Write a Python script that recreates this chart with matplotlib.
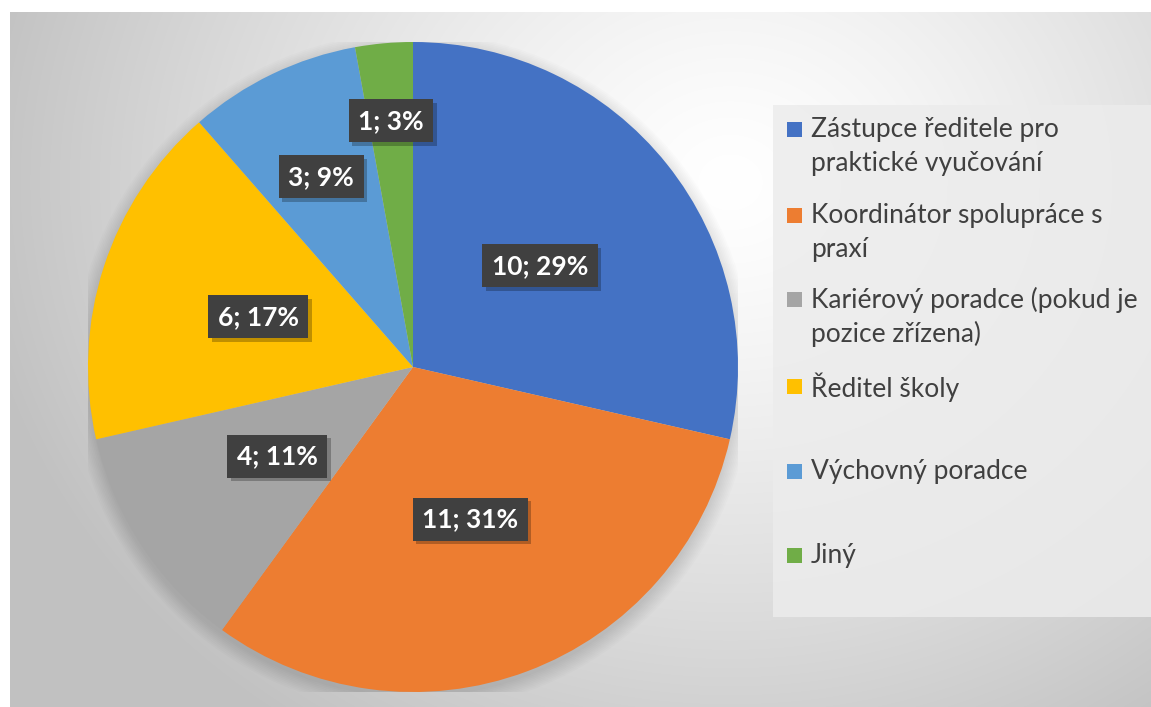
import numpy as np
import matplotlib.pyplot as plt
import matplotlib.patheffects as pe
from matplotlib.patches import Rectangle, Circle

# data
categories = ["Zástupce ředitele pro\npraktické vyučování",
              "Koordinátor spolupráce s\npraxí",
              "Kariérový poradce (pokud je\npozice zřízena)",
              "Ředitel školy",
              "Výchovný poradce",
              "Jiný"]
counts = [10, 11, 4, 6, 3, 1]
colors = ["#4472C4", "#ED7D31", "#A5A5A5", "#FFC000", "#5B9BD5", "#70AD47"]

plt.rcParams['font.family'] = ['Lato', 'DejaVu Sans']

W, H = 1151, 707
fig = plt.figure(figsize=(W / 100, H / 100), dpi=100)
fig.patch.set_facecolor('white')

# background panel with radial gradient
bg = fig.add_axes([10 / W, 0, (W - 10) / W, (H - 12) / H])
bg.set_axis_off()
yy, xx = np.mgrid[0:695, 0:1141]
d = np.sqrt((xx - 720) ** 2 + ((yy - 170) * 1.15) ** 2)
t = np.clip(d / 760, 0, 1) ** 1.3
shade = 1.0 - t * (1.0 - 0.76)
img = np.dstack([shade, shade, shade])
bg.imshow(img, aspect='auto', extent=[0, 1, 0, 1], origin='upper')
bg.set_xlim(0, 1)
bg.set_ylim(0, 1)

# pie
cx, cy, R = 413, 367, 325
ax = fig.add_axes([(cx - R) / W, (H - cy - R) / H, 2 * R / W, 2 * R / H])
ax.set_axis_off()

# soft shadow under the pie
for k in range(10):
    ax.add_patch(Circle((0, -0.015), 1.0 + 0.005 * k, color='black',
                        alpha=0.012, lw=0, zorder=0))

wedges, _ = ax.pie(counts, colors=colors, startangle=90, counterclock=False,
                   radius=1, wedgeprops=dict(linewidth=0))
for w in wedges:
    w.set_zorder(2)
ax.set_xlim(-1, 1)
ax.set_ylim(-1, 1)

total = sum(counts)
label_dist = [0.5, 0.5, 0.5, 0.5, 0.65, 0.76]
for w, c, dist in zip(wedges, counts, label_dist):
    ang = np.deg2rad((w.theta1 + w.theta2) / 2)
    txt = f"{c}; {round(100 * c / total)}%"
    t = ax.text(dist * np.cos(ang), dist * np.sin(ang), txt, ha='center', va='center',
                color='white', fontsize=19, fontweight='bold', zorder=5,
                bbox=dict(boxstyle='square,pad=0.36', facecolor='#404040', edgecolor='none'))
    t.get_bbox_patch().set_path_effects([
        pe.SimplePatchShadow(offset=(2.5, -2.5), shadow_rgbFace='black', alpha=0.25),
        pe.Normal()])

# legend
lg = fig.add_axes([0, 0, 1, 1])
lg.set_axis_off()
lg.set_xlim(0, W)
lg.set_ylim(H, 0)
lg.add_patch(Rectangle((773, 105), W - 773, 512, facecolor='#ececec', edgecolor='none', alpha=0.85))
item_y = [130, 216, 300, 387, 472, 556]
for name, col, y0 in zip(categories, colors, item_y):
    lg.add_patch(Rectangle((787, y0 - 8), 15, 15, facecolor=col, edgecolor='none'))
    for j, line in enumerate(name.split("\n")):
        lg.text(811, y0 + 34 * j, line, ha='left', va='center', fontsize=19, color='#404040')

fig.savefig("out.png", dpi=100)
